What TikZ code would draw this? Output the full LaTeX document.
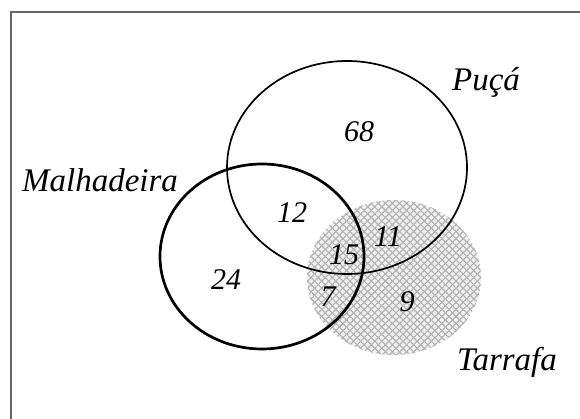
\documentclass[tikz,border=0pt]{standalone}
\usepackage{fontspec}
\setmainfont{Liberation Serif}
\usetikzlibrary{patterns.meta}
\begin{document}
\begin{tikzpicture}[x=1pt,y=1pt,
    setlabel/.style={font=\fontsize{33}{35}\selectfont\itshape, inner sep=0pt},
    count/.style={font=\fontsize{30}{32}\selectfont\itshape, inner sep=0pt},
    thinset/.style={draw=black, line width=1.7pt},
    thickset/.style={draw=black, line width=2.7pt}]
  \useasboundingbox (0,0) rectangle (580,419);
  % open frame: only the top and left edges
  \draw[gray!80!black, line width=1.6pt] (11,0) -- (11,407) -- (580,407);

  % Tarrafa: cross-hatched disc without outline
  \fill[gray!12] (394,141.5) ellipse [x radius=87, y radius=77.5];
  \fill[pattern={Lines[angle=45,distance=5pt,line width=1.1pt]}, pattern color=gray!60]
    (394,141.5) ellipse [x radius=87, y radius=77.5];
  \fill[pattern={Lines[angle=-45,distance=5pt,line width=1.1pt]}, pattern color=gray!60]
    (394,141.5) ellipse [x radius=87, y radius=77.5];

  % Puçá and Malhadeira outlines
  \draw[thinset] (347,251.5) ellipse [x radius=120, y radius=106.5];
  \draw[thickset] (262,162.5) ellipse [x radius=102, y radius=92.5];

  % set names
  \node[setlabel] (puca) at (486,337) {Puçá};
  \node[setlabel] (malha) at (100,239) {Malhadeira};
  \node[setlabel] (tarr) at (507,57) {Tarrafa};

  % region counts
  \node[count] (n68) at (359,287) {68};
  \node[count] (n12) at (292,206) {12};
  \node[count] (n11) at (388,182) {11};
  \node[count] (n15) at (344,164) {15};
  \node[count] (n24) at (226,139) {24};
  \node[count] (n7)  at (328,122) {7};
  \node[count] (n9)  at (407,117) {9};
\end{tikzpicture}
\end{document}
